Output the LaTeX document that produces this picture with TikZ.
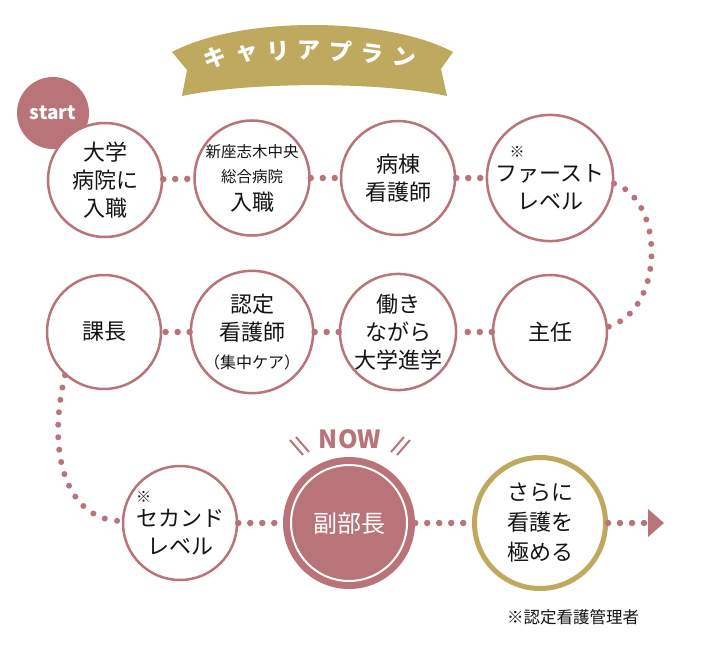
\documentclass[tikz,border=0pt]{standalone}
\usepackage{fontspec}
\setmainfont{Noto Sans CJK JP}
\usetikzlibrary{arrows.meta}
\definecolor{rose}{RGB}{185,116,122}
\definecolor{gold}{RGB}{190,169,95}
\definecolor{ink}{RGB}{20,20,20}
\begin{document}
\begin{tikzpicture}[x=1pt,y=-1pt,
  stepcirc/.style={circle,draw=rose,line width=2.5pt,fill=white,minimum size=114pt,
    inner sep=0pt,align=center,text=ink,font=\fontsize{22}{28}\selectfont},
  dotline/.style={draw=rose,line width=6.5pt,line cap=round,dash pattern=on 0pt off 12pt},
  arcdots/.style={draw=rose,line width=6pt,line cap=round,dash pattern=on 0pt off 12.5pt},
  titlechar/.style={text=white,font=\fontsize{23}{23}\selectfont\bfseries,inner sep=0pt},
  slash/.style={draw=rose,line width=2pt}
]
\useasboundingbox (0,0) rectangle (709,661);
\fill[white] (0,0) rectangle (709,661);

% banner
\fill[gold] (172,52) .. controls (240,16) and (385,16) .. (453,52) -- (441,69) -- (447,96)
  .. controls (380,81.5) and (250,81.5) .. (182,96) -- (187,70) -- cycle;
\node[titlechar,rotate=12] (t1) at (215,58) {キ};
\node[titlechar,rotate=8]  (t2) at (247,54) {ャ};
\node[titlechar,rotate=4]  (t3) at (278,51) {リ};
\node[titlechar,rotate=0]  (t4) at (309,50) {ア};
\node[titlechar,rotate=-4] (t5) at (341,51) {プ};
\node[titlechar,rotate=-8] (t6) at (372,53.5) {ラ};
\node[titlechar,rotate=-12](t7) at (404,58) {ン};

% start badge
\node[circle,fill=rose,minimum size=72pt,inner sep=0pt] (start) at (53,113) {};
\node[text=white,font=\fontsize{19}{19}\selectfont\bfseries,anchor=base] (starttxt) at (53,119) {start};

% row 1
\node[stepcirc] (c1) at (105,180) {大学\\病院に\\入職};
\node[stepcirc] (c2) at (252,178) {\fontsize{15.5}{22}\selectfont 新座志木中央\\[-3pt]\fontsize{15.5}{22}\selectfont 総合病院\\\fontsize{22}{30}\selectfont 入職};
\node[stepcirc] (c3) at (398,178) {病棟\\看護師};
\node[stepcirc] (c4) at (550,178) {\makebox[0pt][l]{\hspace*{14pt}\raisebox{24pt}{\fontsize{15}{15}\selectfont ※}}ファースト\\レベル};

% row 2
\node[stepcirc] (c5) at (104,332) {課長};
\node[stepcirc] (c6) at (252,332) {認定\\看護師\\\fontsize{16}{26}\selectfont （集中ケア）};
\node[stepcirc] (c7) at (398,332) {働き\\ながら\\大学進学};
\node[stepcirc] (c8) at (550,332) {主任};

% row 3
\node[stepcirc] (c9) at (180,523) {\makebox[0pt][l]{\hspace*{0pt}\raisebox{24pt}{\fontsize{15}{15}\selectfont ※}}セカンド\\レベル};
\node[circle,fill=rose,minimum size=132pt,inner sep=0pt,text=white,font=\fontsize{24}{24}\selectfont] (c10) at (349,523) {副部長};
\draw[white,line width=2pt] (c10.center) circle[radius=58];
\node[circle,draw=gold,line width=5pt,fill=white,minimum size=131pt,inner sep=0pt,align=center,text=ink,font=\fontsize{22}{30}\selectfont] (c11) at (540,523) {さらに\\看護を\\極める};

% NOW
\node[text=rose,font=\fontsize{25}{25}\selectfont\bfseries] (now) at (350,439) {NOW};
\draw[slash] (290,440) -- (303,455);
\draw[slash] (296,437) -- (309,452);
\draw[slash] (410,440) -- (397,455);
\draw[slash] (404,437) -- (391,452);

% note
\node[text=ink,font=\fontsize{16.5}{16.5}\selectfont] (note) at (573,617) {※認定看護管理者};

% connectors
\draw[dotline] (c1) -- (c2);
\draw[dotline] (c2) -- (c3);
\draw[dotline] (c3) -- (c4);
\draw[dotline] (c8) -- (c7);
\draw[dotline] (c7) -- (c6);
\draw[dotline] (c6) -- (c5);
\draw[arcdots] (c4.-5) .. controls (665,200) and (665,310) .. (c8.5);
\draw[arcdots] (c5.228) .. controls (45,460) and (70,521) .. (c9.178);
\draw[dotline] (c9) -- (c10);
\draw[dotline] (c10) -- (c11);
\coordinate (ab) at (647,523);
\draw[dotline] (c11) -- (ab);
\fill[rose] (648,509) -- (664,523) -- (648,537) -- cycle;
\end{tikzpicture}
\end{document}
